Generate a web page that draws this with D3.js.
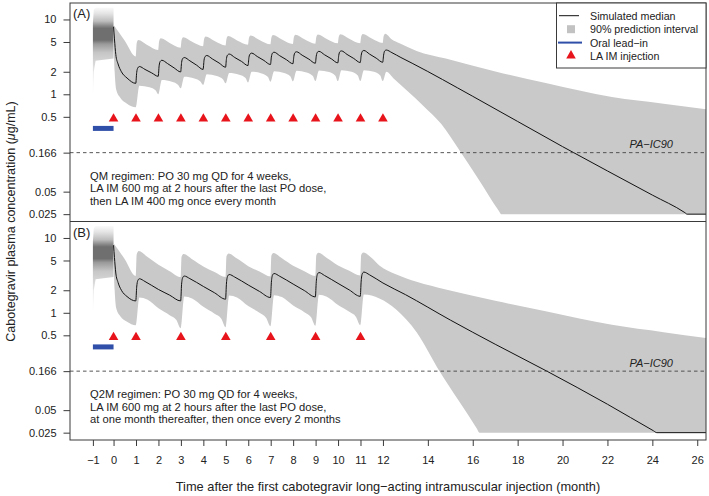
<!DOCTYPE html>
<html><head><meta charset="utf-8">
<script src="https://cdn.jsdelivr.net/npm/d3@7"></script>
<style>body{margin:0;background:#fff}svg{display:block;font-family:"Liberation Sans",Arial,Helvetica,sans-serif}</style>
</head><body><svg id="c" width="709" height="496"></svg>
<script>
// ---------- data ----------
const xTickValues = [-0.92,0,1,2,3,4,5,6,7,8,9,10,11,12,14,16,18,20,22,24,26];
const xTickLabels = ["\u22121","0","1","2","3","4","5","6","7","8","9","10","11","12","14","16","18","20","22","24","26"];
const yTickValues = [10,5,2,1,0.5,0.166,0.05,0.025];
const yTickLabels = ["10","5","2","1","0.5","0.166","0.05","0.025"];
const injA = [0,1,2,3,4,5,6,7,8,9,10,11,12];
const injB = [0,1,3,5,7,9,11];
const leadIn = [-0.92, 0];
const paIC90 = 0.166;

const oralUpper = [[-0.92,9],[-0.88,13.5],[-0.8,14.5],[0,14.5]];
const oralLower = [[-0.92,0.9],[-0.88,2.0],[-0.8,2.8],[0,3.0]];

const medianA = [[0,8.0],[0.04,5.5],[0.1,3.4],[0.2,2.55],[0.35,2.0],[0.6,1.65],[0.99,1.4],
[1.03,1.95],[1.08,2.25],[1.15,2.35],[1.4,2.15],[1.7,1.93],[1.99,1.74],
[2.03,2.4],[2.08,2.75],[2.15,2.85],[2.4,2.58],[2.7,2.25],[2.99,1.99],
[3.03,2.65],[3.08,3.0],[3.15,3.1],[3.4,2.8],[3.7,2.45],[3.99,2.15],
[4.03,2.85],[4.08,3.2],[4.15,3.3],[4.4,2.97],[4.7,2.62],[4.99,2.3],
[5.03,3.0],[5.08,3.35],[5.15,3.45],[5.4,3.1],[5.7,2.75],[5.99,2.42],
[6.03,3.1],[6.08,3.45],[6.15,3.55],[6.4,3.2],[6.7,2.83],[6.99,2.5],
[7.03,3.15],[7.08,3.55],[7.15,3.65],[7.4,3.28],[7.7,2.9],[7.99,2.56],
[8.03,3.2],[8.08,3.6],[8.15,3.7],[8.4,3.33],[8.7,2.95],[8.99,2.6],
[9.03,3.25],[9.08,3.65],[9.15,3.75],[9.4,3.37],[9.7,2.98],[9.99,2.63],
[10.03,3.3],[10.08,3.7],[10.15,3.8],[10.4,3.41],[10.7,3.01],[10.99,2.66],
[11.03,3.3],[11.08,3.75],[11.15,3.85],[11.4,3.45],[11.7,3.04],[11.99,2.68],
[12.03,3.35],[12.08,3.8],[12.15,3.9],[12.4,3.6],[12.8,3.1],[13.3,2.6],[16,0.94],[20,0.2],[24,0.045],[25.45,0.0262],[25.55,0.025],[26.39,0.025]];

const upperA = [[0,8.5],[0.5,5.2],[0.99,3.2],
[1.03,4.8],[1.1,5.3],[1.5,4.55],[1.99,3.9],
[2.03,5.1],[2.1,5.6],[2.5,4.85],[2.99,4.2],
[3.03,5.3],[3.1,5.8],[3.5,5.05],[3.99,4.4],
[4.03,5.4],[4.1,5.9],[4.5,5.15],[4.99,4.5],
[5.03,5.5],[5.1,6.0],[5.5,5.25],[5.99,4.6],
[6.03,5.6],[6.1,6.1],[6.5,5.33],[6.99,4.65],
[7.03,5.7],[7.1,6.2],[7.5,5.4],[7.99,4.7],
[8.03,5.75],[8.1,6.25],[8.5,5.45],[8.99,4.75],
[9.03,5.8],[9.1,6.3],[9.5,5.5],[9.99,4.8],
[10.03,5.85],[10.1,6.35],[10.5,5.53],[10.99,4.8],
[11.03,5.9],[11.1,6.4],[11.5,5.55],[11.99,4.85],
[12.03,5.95],[12.1,6.45],[12.4,5.4],[12.74,4.8],[13.5,3.8],[14.8,3.0],[17.05,2.0],[19.3,1.4],[22.2,0.92],[24.5,0.75],[26.39,0.63]];

const lowerA = [[0,4.8],[0.05,2.0],[0.12,1.15],[0.3,0.9],[0.6,0.75],[0.99,0.67],
[1.15,1.3],[1.6,1.24],[1.88,1.12],[1.99,1.0],
[2.15,1.55],[2.6,1.47],[2.88,1.33],[2.99,1.2],
[3.15,1.72],[3.6,1.63],[3.88,1.47],[3.99,1.33],
[4.15,1.85],[4.6,1.76],[4.88,1.58],[4.99,1.4],
[5.15,1.93],[5.6,1.83],[5.88,1.65],[5.99,1.44],
[6.15,2.0],[6.6,1.9],[6.88,1.7],[6.99,1.47],
[7.15,2.03],[7.6,1.93],[7.88,1.73],[7.99,1.49],
[8.15,2.06],[8.6,1.96],[8.88,1.75],[8.99,1.5],
[9.15,2.08],[9.6,1.98],[9.88,1.77],[9.99,1.5],
[10.15,2.1],[10.6,2.0],[10.88,1.78],[10.99,1.5],
[11.15,2.1],[11.6,2.0],[11.88,1.78],[11.99,1.5],
[12.15,2.0],[12.5,1.6],[13.78,0.71],[14.6,0.4],[15.4,0.18],[16.3,0.07],[17.15,0.028],[17.27,0.025],[26.39,0.025]];

const medianB = [[0,8.0],[0.04,5.5],[0.1,3.4],[0.2,2.55],[0.35,2.0],[0.6,1.65],[0.99,1.44],
[1.03,2.2],[1.08,2.7],[1.15,2.85],[1.4,2.62],[2.0,2.05],[2.5,1.72],[2.99,1.44],
[3.03,2.4],[3.08,2.95],[3.15,3.1],[3.4,2.86],[4.0,2.25],[4.5,1.85],[4.99,1.52],
[5.03,2.5],[5.08,3.08],[5.15,3.25],[5.4,3.0],[6.0,2.35],[6.5,1.93],[6.99,1.6],
[7.03,2.55],[7.08,3.18],[7.15,3.35],[7.4,3.08],[8.0,2.42],[8.5,1.98],[8.99,1.63],
[9.03,2.6],[9.08,3.27],[9.15,3.45],[9.4,3.15],[10.0,2.47],[10.5,2.02],[10.99,1.66],
[11.03,2.65],[11.08,3.32],[11.15,3.5],[11.4,3.22],[12.0,2.5],[13,1.75],[15,0.8],[17,0.38],[19.3,0.166],[22,0.06],[24.05,0.0265],[24.2,0.025],[26.39,0.025]];

const upperB = [[0,8.5],[0.5,5.2],[0.99,3.1],
[1.03,6.0],[1.12,6.7],[1.5,5.6],[2.0,4.4],[2.5,3.6],[2.99,3.0],
[3.03,5.6],[3.12,6.1],[3.5,5.2],[4.0,4.15],[4.5,3.5],[4.99,3.0],
[5.03,5.7],[5.12,6.2],[5.5,5.3],[6.0,4.2],[6.5,3.55],[6.99,3.05],
[7.03,5.8],[7.12,6.3],[7.5,5.35],[8.0,4.25],[8.5,3.6],[8.99,3.1],
[9.03,5.85],[9.12,6.35],[9.5,5.4],[10.0,4.3],[10.5,3.65],[10.99,3.15],
[11.03,5.9],[11.12,6.4],[11.5,5.4],[11.84,4.3],[12.6,3.25],[13.5,2.6],[14.8,2.05],[17,1.45],[19.3,1.04],[22.2,0.69],[24.5,0.55],[26.39,0.46]];

const lowerB = [[0,4.8],[0.05,2.0],[0.12,1.15],[0.3,0.9],[0.6,0.76],[0.99,0.68],
[1.15,1.6],[1.5,1.5],[2.0,1.15],[2.5,0.93],[2.8,0.8],[2.99,0.62],
[3.15,1.65],[3.5,1.55],[4.0,1.2],[4.5,0.97],[4.8,0.83],[4.99,0.64],
[5.15,1.7],[5.5,1.6],[6.0,1.23],[6.5,1.0],[6.8,0.85],[6.99,0.66],
[7.15,1.72],[7.5,1.62],[8.0,1.25],[8.5,1.02],[8.8,0.87],[8.99,0.67],
[9.15,1.74],[9.5,1.64],[10.0,1.27],[10.5,1.03],[10.8,0.88],[10.99,0.68],
[11.15,1.75],[11.84,1.55],[12.6,1.1],[13.5,0.55],[14.5,0.17],[15.4,0.065],[16.18,0.0285],[16.3,0.025],[26.39,0.025]];

const textA = ["QM regimen: PO 30 mg QD for 4 weeks,","LA IM 600 mg at 2 hours after the last PO dose,","then LA IM 400 mg once every month"];
const textB = ["Q2M regimen: PO 30 mg QD for 4 weeks,","LA IM 600 mg at 2 hours after the last PO dose,","at one month thereafter, then once every 2 months"];
const legendLabels = ["Simulated median","90% prediction interval","Oral lead\u2212in","LA IM injection"];

// ---------- layout ----------
const L = 70, R = 706, T = 3, MID = 221.5, B = 440;
const svg = d3.select("#c");
const x = d3.scaleLinear().domain([-1.94, 26.39]).range([L, R]);
const yDomain = [Math.pow(10,-1.70), Math.pow(10,1.22)];
const C_GRAY = "#c9c9c9", C_TEXT = "#222", C_FRAME = "#3a3a3a";

const defs = svg.append("defs");

function panel(id, top, bottom, med, up, lo, inj, label, lines) {
  const y = d3.scaleLog().domain(yDomain).range([bottom, top]);
  defs.append("clipPath").attr("id","clip"+id).append("rect")
    .attr("x",L).attr("y",top).attr("width",R-L).attr("height",bottom-top);
  const g = svg.append("g").attr("clip-path","url(#clip"+id+")");

  // oral lead-in gradient band
  const gy0 = y(15), gy1 = y(1);
  const off = v => (y(v)-gy0)/(gy1-gy0);
  const grad = defs.append("linearGradient").attr("id","og"+id)
    .attr("gradientUnits","userSpaceOnUse").attr("x1",0).attr("x2",0).attr("y1",gy0).attr("y2",gy1);
  [[15,"#ffffff"],[12,"#e4e4e4"],[9.5,"#bdbdbd"],[8.3,"#8c8c8c"],[7.6,"#6f6f6f"],[5.3,"#6f6f6f"],[4.7,"#9a9a9a"],[3.6,"#c6c6c6"],[2.0,"#e6e6e6"],[1.0,"#fcfcfc"]]
    .forEach(([v,c]) => grad.append("stop").attr("offset",off(v)).attr("stop-color",c));
  const lineLin = d3.line().x(d=>x(d[0])).y(d=>y(d[1]));
  const oralPath = lineLin(oralUpper) + lineLin(oralLower.slice().reverse()).replace(/^M/,"L") + "Z";
  g.append("path").attr("d",oralPath).attr("fill","url(#og"+id+")");

  // prediction interval
  const lineC = d3.line().x(d=>x(d[0])).y(d=>y(d[1])).curve(d3.curveMonotoneX);
  const piPath = lineC(up) + lineC(lo.slice().reverse()).replace(/^M/,"L") + "Z";
  g.append("path").attr("d",piPath).attr("fill",C_GRAY);

  // PA-IC90
  svg.append("line").attr("x1",L).attr("x2",R).attr("y1",y(paIC90)).attr("y2",y(paIC90))
    .attr("stroke","#444").attr("stroke-width",0.9).attr("stroke-dasharray","3.5,3");
  svg.append("text").attr("x",673).attr("y",y(paIC90)-4.5).attr("text-anchor","end")
    .attr("font-size",11).attr("font-style","italic").attr("fill",C_TEXT).text("PA\u2212IC90");

  // median
  g.append("path").attr("d",lineC(med)).attr("fill","none").attr("stroke","#111").attr("stroke-width",1);

  // oral lead-in bar
  svg.append("line").attr("x1",x(leadIn[0])).attr("x2",x(leadIn[1])).attr("y1",y(0.35)).attr("y2",y(0.35))
    .attr("stroke","#2f4fa8").attr("stroke-width",5);

  // injections
  svg.append("g").selectAll("path").data(inj).join("path")
    .attr("d", d3.symbol(d3.symbolTriangle, 40)())
    .attr("transform", d => `translate(${x(d)},${y(0.47)})`)
    .attr("fill","#e8141c");

  // y axis
  const ax = svg.append("g").attr("transform",`translate(${L},0)`)
    .call(d3.axisLeft(y).tickValues(yTickValues).tickFormat((d,i)=>yTickLabels[i]).tickSize(6.5).tickPadding(7));
  ax.select(".domain").remove();
  ax.selectAll("line").attr("stroke",C_FRAME);
  ax.selectAll("text").attr("font-size",11).attr("fill",C_TEXT).attr("font-family",null);

  // panel label
  svg.append("text").attr("x",73).attr("y",top+15).attr("font-size",13).attr("fill",C_TEXT).text(label);

  // description
  svg.append("g").selectAll("text").data(lines).join("text")
    .attr("x",90).attr("y",(d,i)=>top+176.5+i*12.7).attr("font-size",11.2).attr("fill",C_TEXT).text(d=>d);
  return y;
}

const yA = panel("A", T, MID, medianA, upperA, lowerA, injA, "(A)", textA);
const yB = panel("B", MID, B, medianB, upperB, lowerB, injB, "(B)", textB);

// frame
svg.append("rect").attr("x",L).attr("y",T).attr("width",R-L).attr("height",B-T)
  .attr("fill","none").attr("stroke",C_FRAME).attr("stroke-width",1);
svg.append("line").attr("x1",L).attr("x2",R).attr("y1",MID).attr("y2",MID).attr("stroke",C_FRAME).attr("stroke-width",1);

// x axis
const xa = svg.append("g").attr("transform",`translate(0,${B})`)
  .call(d3.axisBottom(x).tickValues(xTickValues).tickFormat((d,i)=>xTickLabels[i]).tickSize(6).tickPadding(10));
xa.select(".domain").remove();
xa.selectAll("line").attr("stroke",C_FRAME);
xa.selectAll("text").attr("font-size",11).attr("fill",C_TEXT).attr("font-family",null);

// axis titles
svg.append("text").attr("x",(L+R)/2).attr("y",491).attr("text-anchor","middle")
  .attr("font-size",12.8).attr("fill",C_TEXT)
  .text("Time after the first cabotegravir long\u2212acting intramuscular injection (month)");
const yt = svg.append("text").attr("transform",`translate(15,${(T+B)/2}) rotate(-90)`)
  .attr("text-anchor","middle").attr("font-size",12.5).attr("fill",C_TEXT);
yt.append("tspan").text("Cabotegravir plasma concentration (");
yt.append("tspan").attr("font-style","italic").text("\u03bc");
yt.append("tspan").text("g/mL)");

// legend
const lg = svg.append("g");
lg.append("rect").attr("x",556.5).attr("y",T).attr("width",R-556.5).attr("height",65)
  .attr("fill","#fff").attr("stroke",C_FRAME).attr("stroke-width",1);
const ly = [15.7, 29.2, 42.6, 55.6];
lg.append("line").attr("x1",559).attr("x2",579).attr("y1",ly[0]).attr("y2",ly[0]).attr("stroke","#111").attr("stroke-width",1);
lg.append("rect").attr("x",567).attr("y",ly[1]-4).attr("width",8).attr("height",8).attr("fill","#c2c2c2");
lg.append("line").attr("x1",558).attr("x2",582).attr("y1",ly[2]).attr("y2",ly[2]).attr("stroke","#2f4fa8").attr("stroke-width",2);
lg.append("path").attr("d",d3.symbol(d3.symbolTriangle,40)()).attr("transform",`translate(571,${ly[3]})`).attr("fill","#e8141c");
lg.selectAll("text.l").data(legendLabels).join("text").attr("class","l")
  .attr("x",590).attr("y",(d,i)=>ly[i]+4).attr("font-size",10.7).attr("fill",C_TEXT).text(d=>d);
</script></body></html>
